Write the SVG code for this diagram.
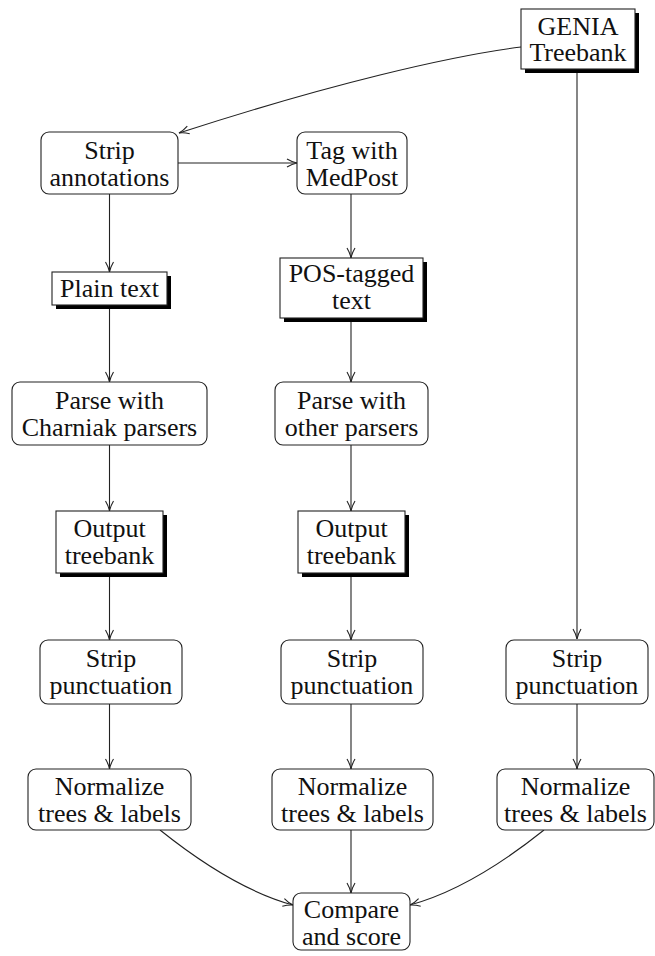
<svg xmlns="http://www.w3.org/2000/svg" width="655" height="956" viewBox="0 0 655 956">
  <style>
    .box { fill: #fff; stroke: #222; stroke-width: 1.1; }
    .shadow { fill: #000; }
    .lbl { font-family: "Liberation Serif", "Times New Roman", serif; font-size: 26px; fill: #111; text-anchor: middle; }
    .edge { fill: none; stroke: #222; stroke-width: 1.1; }
  </style>
  <defs>
    <marker id="vee" markerWidth="12" markerHeight="10" refX="11" refY="5" orient="auto" markerUnits="userSpaceOnUse">
      <path d="M1,1 Q6,4 11,5 Q6,6 1,9" fill="none" stroke="#222" stroke-width="1.1"/>
    </marker>
  </defs>
  <rect width="655" height="956" fill="#fff"/>

  <g id="connectors">
    <path class="edge" marker-end="url(#vee)" d="M521,47 C450,56 330,84 179,133"/>
    <path class="edge" d="M577,69 L577,639" marker-end="url(#vee)"/>
    <path class="edge" marker-end="url(#vee)" d="M178,163 L297,163"/>
    <path class="edge" marker-end="url(#vee)" d="M109.5,194 L109.5,272"/>
    <path class="edge" marker-end="url(#vee)" d="M351,194 L351,258"/>
    <path class="edge" marker-end="url(#vee)" d="M109.5,305 L109.5,382"/>
    <path class="edge" marker-end="url(#vee)" d="M351,318 L351,382"/>
    <path class="edge" marker-end="url(#vee)" d="M109.5,445 L109.5,511"/>
    <path class="edge" marker-end="url(#vee)" d="M351,445 L351,511"/>
    <path class="edge" marker-end="url(#vee)" d="M109.5,573 L109.5,640"/>
    <path class="edge" marker-end="url(#vee)" d="M351,573 L351,640"/>
    <path class="edge" marker-end="url(#vee)" d="M109.5,704 L109.5,769"/>
    <path class="edge" marker-end="url(#vee)" d="M351,704 L351,769"/>
    <path class="edge" marker-end="url(#vee)" d="M577,704 L577,769"/>
    <path class="edge" marker-end="url(#vee)" d="M160,830 C200,862 245,892 293,905"/>
    <path class="edge" marker-end="url(#vee)" d="M351,830 L351,893"/>
    <path class="edge" marker-end="url(#vee)" d="M544,830 C504,862 458,892 410,905"/>
  </g>

  <g id="genia">
    <rect class="shadow" x="525" y="13" width="114" height="60"/>
    <rect class="box" x="521" y="9" width="114" height="60"/>
    <text class="lbl" x="578" y="34.5">GENIA</text>
    <text class="lbl" x="578" y="61">Treebank</text>
  </g>

  <g id="strip-annotations">
    <rect class="box" x="41" y="132" width="137" height="62" rx="8"/>
    <text class="lbl" x="109.5" y="158.5">Strip</text>
    <text class="lbl" x="109.5" y="185.5">annotations</text>
  </g>

  <g id="tag-medpost">
    <rect class="box" x="297" y="132" width="110" height="62" rx="8"/>
    <text class="lbl" x="352" y="158.5">Tag with</text>
    <text class="lbl" x="352" y="185.5">MedPost</text>
  </g>

  <g id="plain-text">
    <rect class="shadow" x="56" y="276" width="115" height="33"/>
    <rect class="box" x="52" y="272" width="115" height="33"/>
    <text class="lbl" x="109.5" y="297">Plain text</text>
  </g>

  <g id="pos-tagged">
    <rect class="shadow" x="284" y="262" width="143" height="60"/>
    <rect class="box" x="280" y="258" width="143" height="60"/>
    <text class="lbl" x="351.5" y="282">POS-tagged</text>
    <text class="lbl" x="351.5" y="309">text</text>
  </g>

  <g id="parse-charniak">
    <rect class="box" x="12" y="382" width="195" height="63" rx="8"/>
    <text class="lbl" x="109.5" y="409">Parse with</text>
    <text class="lbl" x="109.5" y="436">Charniak parsers</text>
  </g>

  <g id="parse-other">
    <rect class="box" x="275" y="382" width="153" height="63" rx="8"/>
    <text class="lbl" x="351.5" y="409">Parse with</text>
    <text class="lbl" x="351.5" y="436">other parsers</text>
  </g>

  <g id="output-left">
    <rect class="shadow" x="60" y="515" width="107" height="62"/>
    <rect class="box" x="56" y="511" width="107" height="62"/>
    <text class="lbl" x="109.5" y="537">Output</text>
    <text class="lbl" x="109.5" y="564">treebank</text>
  </g>

  <g id="output-middle">
    <rect class="shadow" x="302" y="515" width="107" height="62"/>
    <rect class="box" x="298" y="511" width="107" height="62"/>
    <text class="lbl" x="351.5" y="537">Output</text>
    <text class="lbl" x="351.5" y="564">treebank</text>
  </g>

  <g id="strip-punct-left">
    <rect class="box" x="40" y="640" width="142" height="64" rx="8"/>
    <text class="lbl" x="111" y="667">Strip</text>
    <text class="lbl" x="111" y="694">punctuation</text>
  </g>

  <g id="strip-punct-middle">
    <rect class="box" x="281" y="640" width="142" height="64" rx="8"/>
    <text class="lbl" x="352" y="667">Strip</text>
    <text class="lbl" x="352" y="694">punctuation</text>
  </g>

  <g id="strip-punct-right">
    <rect class="box" x="506" y="640" width="142" height="64" rx="8"/>
    <text class="lbl" x="577" y="667">Strip</text>
    <text class="lbl" x="577" y="694">punctuation</text>
  </g>

  <g id="normalize-left">
    <rect class="box" x="28" y="769" width="163" height="61" rx="8"/>
    <text class="lbl" x="109.5" y="795">Normalize</text>
    <text class="lbl" x="109.5" y="821.5">trees &amp; labels</text>
  </g>

  <g id="normalize-middle">
    <rect class="box" x="272" y="769" width="161" height="61" rx="8"/>
    <text class="lbl" x="352.5" y="795">Normalize</text>
    <text class="lbl" x="352.5" y="821.5">trees &amp; labels</text>
  </g>

  <g id="normalize-right">
    <rect class="box" x="497" y="769" width="157" height="61" rx="8"/>
    <text class="lbl" x="575.5" y="795">Normalize</text>
    <text class="lbl" x="575.5" y="821.5">trees &amp; labels</text>
  </g>

  <g id="compare-score">
    <rect class="box" x="293" y="893" width="117" height="57" rx="8"/>
    <text class="lbl" x="351.5" y="918">Compare</text>
    <text class="lbl" x="351.5" y="944.5">and score</text>
  </g>
</svg>
